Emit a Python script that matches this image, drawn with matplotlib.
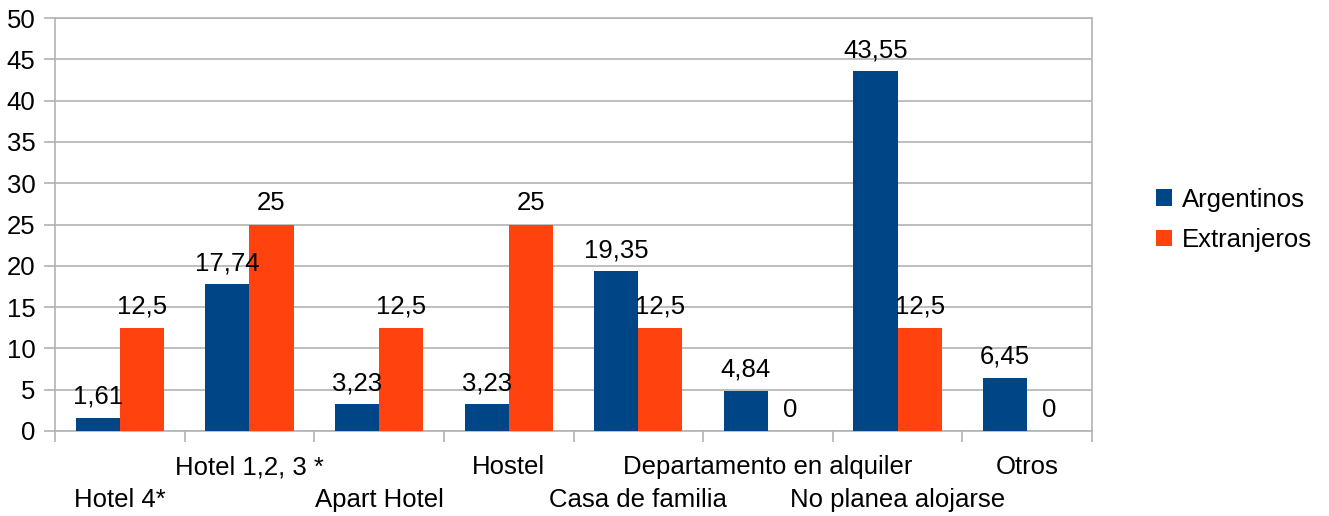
import matplotlib.pyplot as plt
import numpy as np

plt.rcParams["font.family"] = ["Liberation Sans", "DejaVu Sans"]

# Data
categories = ["Hotel 4*", "Hotel 1,2, 3 *", "Apart Hotel", "Hostel",
              "Casa de familia", "Departamento en alquiler",
              "No planea alojarse", "Otros"]
argentinos = [1.61, 17.74, 3.23, 3.23, 19.35, 4.84, 43.55, 6.45]
extranjeros = [12.5, 25, 12.5, 25, 12.5, 0, 12.5, 0]

c_arg = "#004586"
c_ext = "#ff420e"
grid_c = "#b3b3b3"
fs = 18.5

fig = plt.figure(figsize=(13.29, 5.16), dpi=100)
ax = fig.add_axes([55 / 1329, 1 - 431 / 516, (1092 - 55) / 1329, (431 - 18) / 516])

x = np.arange(len(categories))
w = 0.34
b1 = ax.bar(x - w / 2, argentinos, w, color=c_arg, label="Argentinos", zorder=3)
b2 = ax.bar(x + w / 2, extranjeros, w, color=c_ext, label="Extranjeros", zorder=3)


def fmt(v):
    s = ("%g" % v)
    return s.replace(".", ",")


for bars, vals in [(b1, argentinos), (b2, extranjeros)]:
    for rect, v in zip(bars, vals):
        ax.annotate(fmt(v), (rect.get_x() + rect.get_width() / 2, v),
                    xytext=(0, 6.5), textcoords="offset points",
                    ha="center", va="bottom", fontsize=fs, zorder=4)

ax.set_xlim(-0.5, len(categories) - 0.5)
ax.set_ylim(0, 50)
ax.set_yticks(np.arange(0, 51, 5))
ax.yaxis.grid(True, color=grid_c, linewidth=1.2, zorder=0)
ax.tick_params(axis="y", length=8, width=1.2, color=grid_c, labelsize=fs, pad=6)

# category boundaries as ticks, labels staggered in two rows
ax.set_xticks(np.arange(-0.5, len(categories), 1.0))
ax.set_xticklabels([])
ax.tick_params(axis="x", length=8, width=1.2, color=grid_c)
for i, name in enumerate(categories):
    off = -50 if i % 2 == 0 else -26
    ax.annotate(name, (i, 0), xycoords=("data", "axes fraction"),
                xytext=(0, off), textcoords="offset points",
                ha="center", va="center", fontsize=fs, annotation_clip=False)

for s in ax.spines.values():
    s.set_color(grid_c)
    s.set_linewidth(1.2)

fig.legend(handles=[b1, b2], loc="center left", bbox_to_anchor=(1133 / 1329, 1 - 220 / 516),
           frameon=False, fontsize=fs, handlelength=0.6, handleheight=0.6,
           handletextpad=0.4, labelspacing=0.65)

fig.savefig("out.png", dpi=100)
